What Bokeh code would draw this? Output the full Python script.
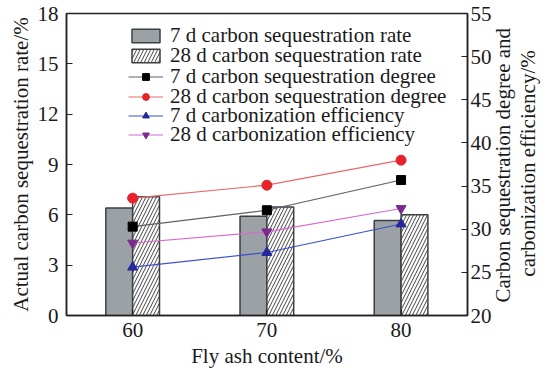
import math
from bokeh.plotting import figure
from bokeh.models import (Range1d, LinearAxis, FixedTicker, Legend, LegendItem,
                          ColumnDataSource)
from bokeh.transform import dodge
from bokeh.embed import file_html
from bokeh.resources import INLINE

# ---- data ----
fly_ash = [60, 70, 80]
rate_7d = [6.40, 5.92, 5.66]
rate_28d = [7.08, 6.46, 6.00]
degree_7d = [30.3, 32.2, 35.7]
degree_28d = [33.6, 35.1, 38.0]
eff_7d = [25.6, 27.3, 30.6]
eff_28d = [28.4, 29.7, 32.4]

x_ticks = [60, 70, 80]
left_ticks = [0, 3, 6, 9, 12, 15, 18]
right_ticks = [20, 25, 30, 35, 40, 45, 50, 55]

labels = [
    "7 d carbon sequestration rate",
    "28 d carbon sequestration rate",
    "7 d carbon sequestration degree",
    "28 d carbon sequestration degree",
    "7 d carbonization efficiency",
    "28 d carbonization efficiency",
]
right_title = ["Carbon sequestration degree and", "carbonization efficiency/%"]
# where each (bottom-to-top) title line starts, on the right axis scale
right_title_start = [21.5, 24.5]

src = ColumnDataSource(dict(x=fly_ash, r7=rate_7d, r28=rate_28d,
                            d7=degree_7d, d28=degree_28d, e7=eff_7d, e28=eff_28d))

FONT = "Liberation Serif"
FS = "21px"
TXT = "#1a1a1a"

p = figure(width=556, height=370, x_range=Range1d(55.07, 84.95), y_range=Range1d(0, 18),
           output_backend="svg", toolbar_location=None,
           min_border_left=66, min_border_right=89, min_border_top=13, min_border_bottom=54)
p.extra_y_ranges = {"right": Range1d(20, 55)}
p.grid.visible = False
p.outline_line_color = "#222222"
p.outline_line_width = 1.5
p.background_fill_color = "white"
p.border_fill_color = "white"

# bars
bar7 = p.vbar(x=dodge("x", -1, range=None), top="r7", width=2, source=src,
              fill_color="#9ca1a5", line_color="#3b4043", line_width=1.5)
bar28 = p.vbar(x=dodge("x", 1, range=None), top="r28", width=2, source=src,
               fill_color="white", line_color="#3b4043", line_width=1.5,
               hatch_pattern="/", hatch_color="#444444", hatch_scale=7, hatch_weight=1)

# lines on right axis
series = [
    ("d7", "#5c6266", "#000000", "square", 9),
    ("d28", "#e86a6a", "#e8222a", "circle", 10),
    ("e7", "#3a50d0", "#25279a", "triangle", 10),
    ("e28", "#d66ad0", "#7a2a8c", "inverted_triangle", 10),
]
line_items = []
for col, lc, mc, mk, sz in series:
    lr = p.line("x", col, source=src, y_range_name="right", line_color=lc, line_width=1.2)
    sr = p.scatter("x", col, source=src, y_range_name="right", marker=mk, size=sz,
                   fill_color=mc, line_color=mc)
    line_items.append([lr, sr])

# axes
p.xaxis.ticker = FixedTicker(ticks=x_ticks)
p.yaxis.ticker = FixedTicker(ticks=left_ticks)
p.xaxis.axis_label = "Fly ash content/%"
p.yaxis.axis_label = "Actual carbon sequestration rate/%"

ry = LinearAxis(y_range_name="right", ticker=FixedTicker(ticks=right_ticks))
p.add_layout(ry, "right")

for ax in [p.xaxis[0], p.yaxis[0], ry]:
    ax.axis_line_color = "#222222"
    ax.axis_line_width = 1.5
    ax.major_tick_in = 6
    ax.major_tick_out = 0
    ax.major_tick_line_color = "#222222"
    ax.major_tick_line_width = 1.2
    ax.minor_tick_line_color = None
    ax.major_label_text_font = FONT
    ax.major_label_text_font_size = FS
    ax.major_label_text_color = TXT
    ax.axis_label_text_font = FONT
    ax.axis_label_text_font_size = FS
    ax.axis_label_text_font_style = "normal"
    ax.axis_label_text_color = TXT

p.yaxis[0].major_label_standoff = 8
p.yaxis[0].axis_label_standoff = 2
p.xaxis[0].major_label_standoff = 7
p.xaxis[0].axis_label_standoff = 4
ry.major_label_standoff = 3

# right-axis title: two lines reading bottom-to-top, drawn as rotated tick labels
for txt, start, so in zip(right_title, right_title_start, [9, -2]):
    t_ax = LinearAxis(y_range_name="right", ticker=FixedTicker(ticks=[start]),
                      major_label_overrides={start: txt},
                      major_label_orientation=math.pi / 2,
                      major_label_standoff=so,
                      axis_line_color=None, major_tick_line_color=None,
                      minor_tick_line_color=None, major_tick_in=0, major_tick_out=0,
                      major_label_text_font=FONT, major_label_text_font_size=FS,
                      major_label_text_color=TXT)
    p.add_layout(t_ax, "right")

# one legend per row so the row pitch matches the reference
renderer_sets = [[bar7], [bar28]] + line_items
legend_bottoms = [267, 247, 226, 206, 187, 168]
for lab, rs, yb in zip(labels, renderer_sets, legend_bottoms):
    leg = Legend(items=[LegendItem(label=lab, renderers=rs)], location=(62, yb),
                 border_line_color=None, background_fill_alpha=0,
                 label_text_font=FONT, label_text_font_size=FS, label_text_color=TXT,
                 glyph_width=35, glyph_height=17, label_height=17,
                 spacing=0, padding=0, margin=0, label_standoff=7)
    p.add_layout(leg)

open("out.html", "w").write(file_html(p, INLINE))
